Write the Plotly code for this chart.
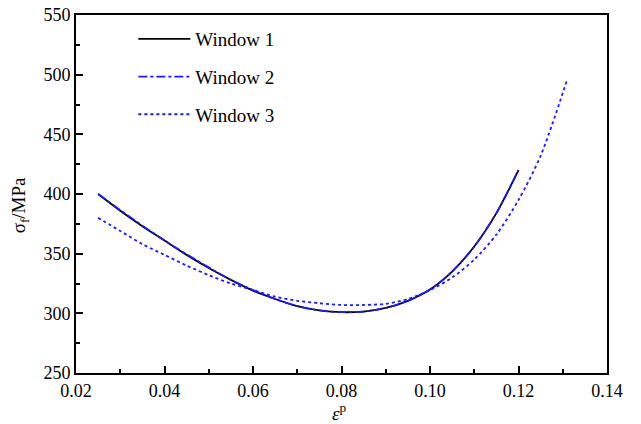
import plotly.graph_objects as go

x1 = [0.025, 0.03, 0.035, 0.04, 0.045, 0.05, 0.055, 0.06, 0.065, 0.07, 0.075, 0.08,
      0.085, 0.09, 0.095, 0.10, 0.105, 0.11, 0.115, 0.12]
y1 = [400, 386, 373, 361, 349, 338, 328, 319, 312, 306, 302.5, 301,
      301.5, 304.5, 310.5, 320, 335, 356, 384, 420]

x2 = [0.025, 0.03, 0.035, 0.04, 0.045, 0.05, 0.055, 0.06, 0.065, 0.07, 0.075, 0.08,
      0.085, 0.09, 0.095, 0.10, 0.105, 0.11, 0.115, 0.12]
y2 = [400, 386.5, 373.5, 361, 349.5, 338.5, 328, 319.5, 312, 306, 302.5, 301,
      301.5, 304.5, 310.5, 320, 335, 356, 384, 420]

x3 = [0.025, 0.03, 0.035, 0.04, 0.045, 0.05, 0.055, 0.06, 0.065, 0.07, 0.075, 0.08,
      0.085, 0.09, 0.095, 0.10, 0.105, 0.11, 0.115, 0.12, 0.125, 0.131]
y3 = [380, 369, 358, 349, 340, 332, 325, 319.5, 314, 310.5, 308.5, 307,
      307, 308, 312, 319.5, 330, 345, 366, 395, 432, 496]

names = ["Window 1", "Window 2", "Window 3"]
x_ticks = [0.02, 0.04, 0.06, 0.08, 0.10, 0.12, 0.14]
x_ticklabels = ["0.02", "0.04", "0.06", "0.08", "0.10", "0.12", "0.14"]
y_ticks = [250, 300, 350, 400, 450, 500, 550]
x_title = "<i>ε</i><sup>p</sup>"
y_title = "σ<sub>f</sub>/MPa"

FONT = "Liberation Serif"

fig = go.Figure()
fig.add_trace(go.Scatter(x=x1, y=y1, mode="lines", name=names[0], legendgroup="a",
                         line=dict(color="black", width=1.8, shape="spline", smoothing=0.8)))
fig.add_trace(go.Scatter(x=x2, y=y2, mode="lines", name=names[1], legendgroup="b",
                         line=dict(color="#1a1aff", width=1.8, dash="dashdot", shape="spline", smoothing=0.8)))
fig.add_trace(go.Scatter(x=x3, y=y3, mode="lines", name=names[2], legendgroup="c",
                         line=dict(color="#1a1aff", width=1.8, dash="dot", shape="spline", smoothing=0.8)))

axis_common = dict(
    showline=True, linecolor="black", linewidth=2, mirror=True,
    ticks="inside", ticklen=7, tickwidth=2, tickcolor="black",
    showgrid=False, zeroline=False, automargin=False,
    tickfont=dict(family=FONT, size=18, color="black"),
)

fig.update_xaxes(
    range=[0.02, 0.14], tickvals=x_ticks, ticktext=x_ticklabels,
    minor=dict(ticks="inside", ticklen=4, tickwidth=1.5, tickcolor="black", dtick=0.01),
    **axis_common,
)
fig.update_yaxes(
    range=[250, 550], tickvals=y_ticks,
    minor=dict(ticks="inside", ticklen=4, tickwidth=1.5, tickcolor="black", dtick=25),
    **axis_common,
)

fig.add_annotation(text=x_title, xref="paper", yref="paper", x=0.497, y=-0.11,
                   xanchor="center", yanchor="middle", showarrow=False,
                   font=dict(family=FONT, size=19, color="black"))
fig.add_annotation(text=y_title, xref="paper", yref="paper", x=-0.105, y=0.469,
                   xanchor="center", yanchor="middle", showarrow=False, textangle=-90,
                   font=dict(family=FONT, size=19, color="black"))

fig.update_layout(
    width=641, height=424,
    margin=dict(l=76, r=34, t=15, b=51, autoexpand=False),
    plot_bgcolor="white", paper_bgcolor="white",
    font=dict(family=FONT, color="black"),
    legend=dict(x=0.108, y=0.986, xanchor="left", yanchor="top", itemwidth=52,
                bgcolor="rgba(0,0,0,0)", font=dict(family=FONT, size=19, color="black"),
                traceorder="grouped", tracegroupgap=10),
)

fig.write_html("out.html", config={"displayModeBar": False},
               post_script="document.body.style.margin='0';")
